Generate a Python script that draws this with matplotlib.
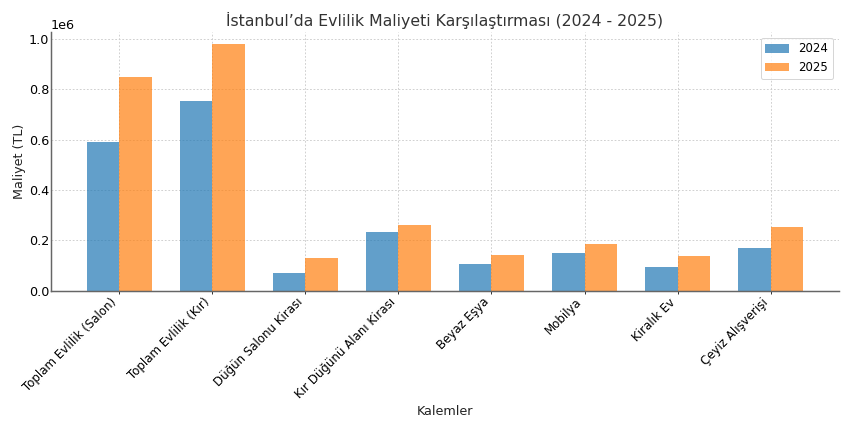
import matplotlib
matplotlib.use("Agg")
import matplotlib.pyplot as plt
import numpy as np

# Kalemler ve maliyetler (TL)
kalemler = ["Toplam Evlilik (Salon)", "Toplam Evlilik (Kır)", "Düğün Salonu Kirası",
            "Kır Düğünü Alanı Kirası", "Beyaz Eşya", "Mobilya", "Kiralık Ev",
            "Çeyiz Alışverişi"]
maliyet_2024 = [590000, 755000, 70000, 235000, 105000, 148000, 96000, 170000]
maliyet_2025 = [850000, 980000, 130000, 263000, 143000, 187000, 136000, 254000]

x = np.arange(len(kalemler))
w = 0.35

fig, ax = plt.subplots(figsize=(12, 6), dpi=850 / 12)

ax.bar(x - w / 2, maliyet_2024, w, label="2024", color="tab:blue", alpha=0.7)
ax.bar(x + w / 2, maliyet_2025, w, label="2025", color="tab:orange", alpha=0.7)

ax.set_title("İstanbul’da Evlilik Maliyeti Karşılaştırması (2024 - 2025)",
             fontsize=16, color="#333333", pad=6)
ax.set_xlabel("Kalemler", fontsize=13, color="#222222", labelpad=4)
ax.set_ylabel("Maliyet (TL)", fontsize=13, color="#222222", labelpad=3)
ax.set_xticks(x)
ax.set_xticklabels(kalemler, rotation=45, ha="right", fontsize=12)
ax.tick_params(axis="y", labelsize=13, length=0, pad=2)
ax.tick_params(axis="x", length=3, pad=2)
ax.yaxis.get_offset_text().set_fontsize(13)

ax.grid(True, linestyle=(0, (2, 2)), color="#cccccc", linewidth=0.9)
ax.set_axisbelow(True)
for s in ["top", "right"]:
    ax.spines[s].set_visible(False)
for s in ["left", "bottom"]:
    ax.spines[s].set_color("#666666")
    ax.spines[s].set_linewidth(1.5)

ax.legend(fontsize=12)

fig.subplots_adjust(left=0.06, right=0.987, bottom=0.316, top=0.925)
plt.savefig("out.png")
